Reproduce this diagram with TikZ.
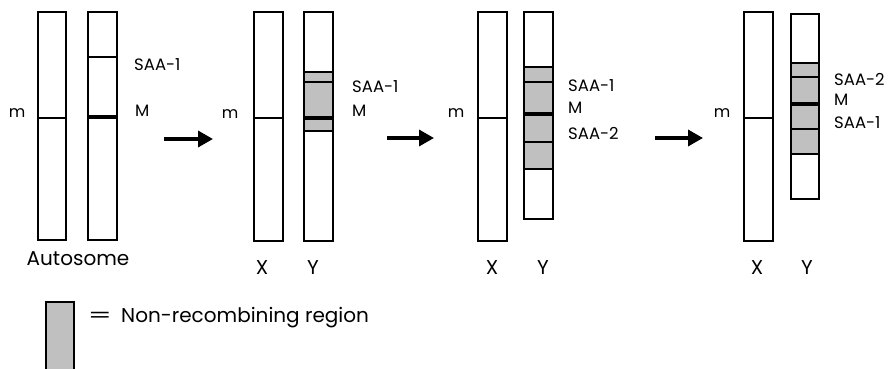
\documentclass[tikz,border=0pt]{standalone}
\usepackage{fontspec}
\setmainfont{Poppins}
\usetikzlibrary{arrows.meta}
\definecolor{nrgrey}{HTML}{C0C0C0}
\begin{document}
\begin{tikzpicture}[x=1pt,y=-1pt,
  chrom/.style={draw=black,line width=1.9pt},
  band/.style={draw=black,line width=1.9pt},
  mband/.style={draw=black,line width=3.2pt},
  nrr/.style={fill=nrgrey},
  lbl/.style={font=\fontsize{16.5}{18}\selectfont,anchor=west,inner sep=0pt},
  mlbl/.style={font=\fontsize{16}{18}\selectfont,inner sep=0pt},
  captext/.style={font=\fontsize{20}{23}\selectfont,inner sep=0pt},
  stagearrow/.style={line width=3.4pt,-{Triangle[length=15pt,width=16pt]}}
]
\useasboundingbox (0,0) rectangle (891,369);
% ---------- Stage 1: autosomes ----------
\draw[chrom] (38,12) rectangle (66,240);
\draw[band] (38,118) -- (66,118);
\node[mlbl] (m1) at (17,113) {m};
\draw[band] (88,57) -- (117,57);
\draw[mband] (88,117) -- (117,117);
\draw[chrom] (88,12) rectangle (117,240);
\node[lbl] (s1a) at (134,65) {SAA-1};
\node[lbl] (M1) at (135,111) {M};
\node[captext] (auto) at (78,259) {Autosome};
\coordinate (a1s) at (164,139);
\coordinate (a1e) at (213,139);
\draw[stagearrow] (a1s) -- (a1e);
% ---------- Stage 2 ----------
\draw[chrom] (254,12) rectangle (283,241);
\draw[band] (254,118) -- (283,118);
\node[mlbl] (m2) at (230,114) {m};
\fill[nrr] (304,72) rectangle (333,131);
\draw[band] (304,72) -- (333,72);
\draw[band] (304,131) -- (333,131);
\draw[band] (304,82) -- (333,82);
\draw[mband] (304,118) -- (333,118);
\draw[chrom] (304,12) rectangle (333,241);
\node[lbl] (s2a) at (352,87) {SAA-1};
\node[lbl] (M2) at (352,111) {M};
\node[captext] (x2) at (262,268) {X};
\node[captext] (y2) at (313,268) {Y};
\coordinate (a2s) at (387,138);
\coordinate (a2e) at (434,138);
\draw[stagearrow] (a2s) -- (a2e);
% ---------- Stage 3 ----------
\draw[chrom] (478,12) rectangle (507,241);
\draw[band] (478,118) -- (507,118);
\node[mlbl] (m3) at (456,113) {m};
\fill[nrr] (524,67) rectangle (553,169);
\draw[band] (524,67) -- (553,67);
\draw[band] (524,169) -- (553,169);
\draw[band] (524,82) -- (553,82);
\draw[mband] (524,114) -- (553,114);
\draw[band] (524,142) -- (553,142);
\draw[chrom] (524,12) rectangle (553,219);
\node[lbl] (s3a) at (568,86) {SAA-1};
\node[lbl] (M3) at (568,108) {M};
\node[lbl] (s3b) at (568,133) {SAA-2};
\node[captext] (x3) at (492,268) {X};
\node[captext] (y3) at (543,268) {Y};
\coordinate (a3s) at (655,138);
\coordinate (a3e) at (703,138);
\draw[stagearrow] (a3s) -- (a3e);
% ---------- Stage 4 ----------
\draw[chrom] (744,12) rectangle (773,241);
\draw[band] (744,118) -- (773,118);
\node[mlbl] (m4) at (722,113) {m};
\fill[nrr] (791,63) rectangle (819,154);
\draw[band] (791,63) -- (819,63);
\draw[band] (791,154) -- (819,154);
\draw[band] (791,77) -- (819,77);
\draw[mband] (791,104) -- (819,104);
\draw[band] (791,129) -- (819,129);
\draw[chrom] (791,14) rectangle (819,199);
\node[lbl] (s4a) at (834,79) {SAA-2};
\node[lbl] (M4) at (834,100) {M};
\node[lbl] (s4b) at (834,123) {SAA-1};
\node[captext] (x4) at (757,268) {X};
\node[captext] (y4) at (807,268) {Y};
% ---------- Legend ----------
\fill[nrr] (46,302) rectangle (74,385);
\draw[chrom] (46,302) rectangle (74,385);
\node[captext] (eq) at (100,317) {\scalebox{1.7}[1]{=}};
\node[captext,anchor=west] (leg) at (121,318) {Non-recombining region};
\end{tikzpicture}
\end{document}
